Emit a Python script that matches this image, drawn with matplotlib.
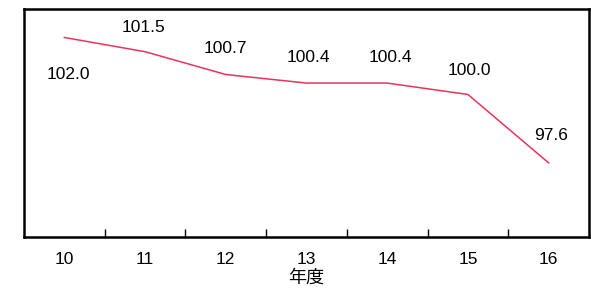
import matplotlib
matplotlib.use("Agg")
import matplotlib.pyplot as plt

years = ["10", "11", "12", "13", "14", "15", "16"]
values = [102.0, 101.5, 100.7, 100.4, 100.4, 100.0, 97.6]
value_labels = ["102.0", "101.5", "100.7", "100.4", "100.4", "100.0", "97.6"]
xlabel = "年度"

plt.rcParams["font.family"] = ["Liberation Sans", "Noto Sans CJK JP", "DejaVu Sans"]

fig = plt.figure(figsize=(5.91, 2.89), dpi=100)
ax = fig.add_axes([0.0406, 0.18, 0.956, 0.789])

x = list(range(len(years)))
ax.plot(x, values, color="#e8345a", linewidth=1.1)

# label offsets in pixels: first one sits below the line, others above
offsets = [(4, -37), (-2, 24), (0, 26), (2, 26), (3, 26), (1, 24), (2, 27)]
for xi, v, lab, off in zip(x, values, value_labels, offsets):
    ax.annotate(lab, (xi, v), xytext=off, textcoords="offset pixels",
                ha="center", va="center", fontsize=12.5, color="black")

ax.set_xlim(-0.5, len(years) - 0.5)
ax.set_ylim(95, 103)

ax.set_xticks(x)
ax.set_xticklabels(years, fontsize=12.5)
ax.tick_params(axis="x", which="major", length=0, pad=11)
ax.set_xticks([i + 0.5 for i in x[:-1]], minor=True)
ax.tick_params(axis="x", which="minor", direction="in", length=6, width=1)
ax.set_yticks([])

for s in ax.spines.values():
    s.set_linewidth(1.8)
    s.set_color("black")

ax.set_xlabel(xlabel, fontsize=13, labelpad=1,
              family=["Noto Sans CJK JP", "DejaVu Sans"])

fig.savefig("out.png", dpi=100)
